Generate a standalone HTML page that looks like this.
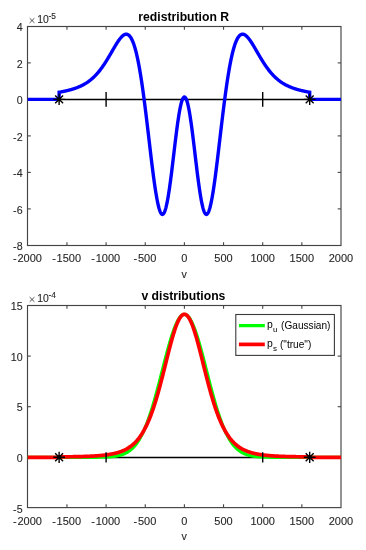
<!DOCTYPE html>
<html><head><meta charset="utf-8"><style>html,body{margin:0;padding:0;background:#fff;}svg{display:block;will-change:transform;}</style></head>
<body>
<svg width="366" height="550" viewBox="0 0 366 550">
<rect width="366" height="550" fill="#fff"/>
<g font-family="Liberation Sans, sans-serif" font-size="10.67" fill="#262626" stroke="#262626" stroke-width="0.1">
<rect x="27.5" y="26.5" width="313.5" height="219.0" fill="none" stroke="#444444" stroke-width="1.15"/>
<line x1="66.95" y1="245.5" x2="66.95" y2="242.2" stroke="#444444" stroke-width="1.1"/>
<line x1="66.95" y1="26.5" x2="66.95" y2="29.8" stroke="#444444" stroke-width="1.1"/>
<line x1="106.10" y1="245.5" x2="106.10" y2="242.2" stroke="#444444" stroke-width="1.1"/>
<line x1="106.10" y1="26.5" x2="106.10" y2="29.8" stroke="#444444" stroke-width="1.1"/>
<line x1="145.25" y1="245.5" x2="145.25" y2="242.2" stroke="#444444" stroke-width="1.1"/>
<line x1="145.25" y1="26.5" x2="145.25" y2="29.8" stroke="#444444" stroke-width="1.1"/>
<line x1="184.40" y1="245.5" x2="184.40" y2="242.2" stroke="#444444" stroke-width="1.1"/>
<line x1="184.40" y1="26.5" x2="184.40" y2="29.8" stroke="#444444" stroke-width="1.1"/>
<line x1="223.55" y1="245.5" x2="223.55" y2="242.2" stroke="#444444" stroke-width="1.1"/>
<line x1="223.55" y1="26.5" x2="223.55" y2="29.8" stroke="#444444" stroke-width="1.1"/>
<line x1="262.70" y1="245.5" x2="262.70" y2="242.2" stroke="#444444" stroke-width="1.1"/>
<line x1="262.70" y1="26.5" x2="262.70" y2="29.8" stroke="#444444" stroke-width="1.1"/>
<line x1="301.85" y1="245.5" x2="301.85" y2="242.2" stroke="#444444" stroke-width="1.1"/>
<line x1="301.85" y1="26.5" x2="301.85" y2="29.8" stroke="#444444" stroke-width="1.1"/>
<line x1="27.5" y1="62.90" x2="30.8" y2="62.90" stroke="#444444" stroke-width="1.1"/>
<line x1="341.0" y1="62.90" x2="337.7" y2="62.90" stroke="#444444" stroke-width="1.1"/>
<line x1="27.5" y1="99.40" x2="30.8" y2="99.40" stroke="#444444" stroke-width="1.1"/>
<line x1="341.0" y1="99.40" x2="337.7" y2="99.40" stroke="#444444" stroke-width="1.1"/>
<line x1="27.5" y1="135.90" x2="30.8" y2="135.90" stroke="#444444" stroke-width="1.1"/>
<line x1="341.0" y1="135.90" x2="337.7" y2="135.90" stroke="#444444" stroke-width="1.1"/>
<line x1="27.5" y1="172.40" x2="30.8" y2="172.40" stroke="#444444" stroke-width="1.1"/>
<line x1="341.0" y1="172.40" x2="337.7" y2="172.40" stroke="#444444" stroke-width="1.1"/>
<line x1="27.5" y1="208.90" x2="30.8" y2="208.90" stroke="#444444" stroke-width="1.1"/>
<line x1="341.0" y1="208.90" x2="337.7" y2="208.90" stroke="#444444" stroke-width="1.1"/>
<text x="27.45" y="262.40" text-anchor="middle" font-size="11">-<tspan dx="0.7">2000</tspan></text>
<text x="66.60" y="262.40" text-anchor="middle" font-size="11">-<tspan dx="0.7">1500</tspan></text>
<text x="105.75" y="262.40" text-anchor="middle" font-size="11">-<tspan dx="0.7">1000</tspan></text>
<text x="144.90" y="262.40" text-anchor="middle" font-size="11">-<tspan dx="0.7">500</tspan></text>
<text x="184.40" y="262.40" text-anchor="middle" font-size="11">0</text>
<text x="223.55" y="262.40" text-anchor="middle" font-size="11">500</text>
<text x="262.70" y="262.40" text-anchor="middle" font-size="11">1000</text>
<text x="301.85" y="262.40" text-anchor="middle" font-size="11">1500</text>
<text x="341.00" y="262.40" text-anchor="middle" font-size="11">2000</text>
<text x="22.6" y="31.10" text-anchor="end">4</text>
<text x="22.6" y="67.60" text-anchor="end">2</text>
<text x="22.6" y="104.10" text-anchor="end">0</text>
<text x="22.6" y="140.60" text-anchor="end">-2</text>
<text x="22.6" y="177.10" text-anchor="end">-4</text>
<text x="22.6" y="213.60" text-anchor="end">-6</text>
<text x="22.6" y="250.10" text-anchor="end">-8</text>
<text x="184.2" y="278.10" text-anchor="middle">v</text>
<rect x="27.5" y="305.5" width="313.5" height="202.10000000000002" fill="none" stroke="#444444" stroke-width="1.15"/>
<line x1="66.95" y1="507.6" x2="66.95" y2="504.3" stroke="#444444" stroke-width="1.1"/>
<line x1="66.95" y1="305.5" x2="66.95" y2="308.8" stroke="#444444" stroke-width="1.1"/>
<line x1="106.10" y1="507.6" x2="106.10" y2="504.3" stroke="#444444" stroke-width="1.1"/>
<line x1="106.10" y1="305.5" x2="106.10" y2="308.8" stroke="#444444" stroke-width="1.1"/>
<line x1="145.25" y1="507.6" x2="145.25" y2="504.3" stroke="#444444" stroke-width="1.1"/>
<line x1="145.25" y1="305.5" x2="145.25" y2="308.8" stroke="#444444" stroke-width="1.1"/>
<line x1="184.40" y1="507.6" x2="184.40" y2="504.3" stroke="#444444" stroke-width="1.1"/>
<line x1="184.40" y1="305.5" x2="184.40" y2="308.8" stroke="#444444" stroke-width="1.1"/>
<line x1="223.55" y1="507.6" x2="223.55" y2="504.3" stroke="#444444" stroke-width="1.1"/>
<line x1="223.55" y1="305.5" x2="223.55" y2="308.8" stroke="#444444" stroke-width="1.1"/>
<line x1="262.70" y1="507.6" x2="262.70" y2="504.3" stroke="#444444" stroke-width="1.1"/>
<line x1="262.70" y1="305.5" x2="262.70" y2="308.8" stroke="#444444" stroke-width="1.1"/>
<line x1="301.85" y1="507.6" x2="301.85" y2="504.3" stroke="#444444" stroke-width="1.1"/>
<line x1="301.85" y1="305.5" x2="301.85" y2="308.8" stroke="#444444" stroke-width="1.1"/>
<line x1="27.5" y1="356.10" x2="30.8" y2="356.10" stroke="#444444" stroke-width="1.1"/>
<line x1="341.0" y1="356.10" x2="337.7" y2="356.10" stroke="#444444" stroke-width="1.1"/>
<line x1="27.5" y1="406.70" x2="30.8" y2="406.70" stroke="#444444" stroke-width="1.1"/>
<line x1="341.0" y1="406.70" x2="337.7" y2="406.70" stroke="#444444" stroke-width="1.1"/>
<line x1="27.5" y1="457.30" x2="30.8" y2="457.30" stroke="#444444" stroke-width="1.1"/>
<line x1="341.0" y1="457.30" x2="337.7" y2="457.30" stroke="#444444" stroke-width="1.1"/>
<text x="27.45" y="524.50" text-anchor="middle" font-size="11">-<tspan dx="0.7">2000</tspan></text>
<text x="66.60" y="524.50" text-anchor="middle" font-size="11">-<tspan dx="0.7">1500</tspan></text>
<text x="105.75" y="524.50" text-anchor="middle" font-size="11">-<tspan dx="0.7">1000</tspan></text>
<text x="144.90" y="524.50" text-anchor="middle" font-size="11">-<tspan dx="0.7">500</tspan></text>
<text x="184.40" y="524.50" text-anchor="middle" font-size="11">0</text>
<text x="223.55" y="524.50" text-anchor="middle" font-size="11">500</text>
<text x="262.70" y="524.50" text-anchor="middle" font-size="11">1000</text>
<text x="301.85" y="524.50" text-anchor="middle" font-size="11">1500</text>
<text x="341.00" y="524.50" text-anchor="middle" font-size="11">2000</text>
<text x="22.6" y="310.20" text-anchor="end">15</text>
<text x="22.6" y="360.80" text-anchor="end">10</text>
<text x="22.6" y="411.40" text-anchor="end">5</text>
<text x="22.6" y="462.00" text-anchor="end">0</text>
<text x="22.6" y="512.60" text-anchor="end">-5</text>
<text x="184.2" y="540.20" text-anchor="middle">v</text>
<path d="M29.7,18.20 L34.4,22.80 M29.7,22.80 L34.4,18.20" stroke="#262626" stroke-width="0.8" fill="none"/><text x="37.2" y="23.40" font-size="10.4">10</text><text x="48.4" y="19.00" font-size="8.4">-5</text>
<path d="M29.7,297.20 L34.4,301.80 M29.7,301.80 L34.4,297.20" stroke="#262626" stroke-width="0.8" fill="none"/><text x="37.2" y="302.40" font-size="10.4">10</text><text x="48.4" y="298.00" font-size="8.4">-4</text>
</g>
<text x="183.7" y="21.0" text-anchor="middle" font-family="Liberation Sans, sans-serif" font-weight="bold" font-size="12.2" fill="#000">redistribution R</text>
<text x="183.4" y="300.0" text-anchor="middle" font-family="Liberation Sans, sans-serif" font-weight="bold" font-size="12.2" fill="#000">v distributions</text>
<line x1="59.12" y1="99.5" x2="309.68" y2="99.5" stroke="#000" stroke-width="1.4"/>
<path d="M27.80,99.40 L59.12,99.40 L59.12,92.26 L59.51,92.19 L59.90,92.12 L60.29,92.05 L60.69,91.98 L61.08,91.90 L61.47,91.83 L61.86,91.75 L62.25,91.68 L62.64,91.60 L63.04,91.52 L63.43,91.44 L63.82,91.36 L64.21,91.27 L64.60,91.19 L64.99,91.10 L65.38,91.02 L65.78,90.93 L66.17,90.84 L66.56,90.75 L66.95,90.66 L67.34,90.56 L67.73,90.47 L68.12,90.37 L68.52,90.27 L68.91,90.17 L69.30,90.07 L69.69,89.97 L70.08,89.86 L70.47,89.76 L70.87,89.65 L71.26,89.53 L71.65,89.42 L72.04,89.31 L72.43,89.19 L72.82,89.07 L73.21,88.95 L73.61,88.82 L74.00,88.69 L74.39,88.56 L74.78,88.43 L75.17,88.30 L75.56,88.16 L75.95,88.02 L76.35,87.88 L76.74,87.73 L77.13,87.58 L77.52,87.43 L77.91,87.27 L78.30,87.11 L78.70,86.95 L79.09,86.79 L79.48,86.62 L79.87,86.45 L80.26,86.27 L80.65,86.09 L81.04,85.90 L81.44,85.72 L81.83,85.52 L82.22,85.33 L82.61,85.13 L83.00,84.92 L83.39,84.71 L83.78,84.50 L84.18,84.28 L84.57,84.05 L84.96,83.82 L85.35,83.59 L85.74,83.35 L86.13,83.11 L86.53,82.86 L86.92,82.60 L87.31,82.34 L87.70,82.07 L88.09,81.80 L88.48,81.52 L88.87,81.24 L89.27,80.94 L89.66,80.65 L90.05,80.34 L90.44,80.03 L90.83,79.72 L91.22,79.39 L91.61,79.06 L92.01,78.72 L92.40,78.38 L92.79,78.03 L93.18,77.67 L93.57,77.30 L93.96,76.92 L94.36,76.54 L94.75,76.15 L95.14,75.75 L95.53,75.35 L95.92,74.94 L96.31,74.51 L96.70,74.09 L97.10,73.65 L97.49,73.20 L97.88,72.75 L98.27,72.29 L98.66,71.82 L99.05,71.34 L99.44,70.85 L99.84,70.35 L100.23,69.85 L100.62,69.34 L101.01,68.82 L101.40,68.29 L101.79,67.75 L102.19,67.21 L102.58,66.65 L102.97,66.09 L103.36,65.52 L103.75,64.95 L104.14,64.36 L104.53,63.77 L104.93,63.17 L105.32,62.57 L105.71,61.95 L106.10,61.33 L106.49,60.71 L106.88,60.08 L107.27,59.44 L107.67,58.79 L108.06,58.14 L108.45,57.49 L108.84,56.83 L109.23,56.17 L109.62,55.50 L110.02,54.83 L110.41,54.16 L110.80,53.49 L111.19,52.81 L111.58,52.13 L111.97,51.45 L112.36,50.78 L112.76,50.10 L113.15,49.42 L113.54,48.75 L113.93,48.08 L114.32,47.41 L114.71,46.75 L115.10,46.09 L115.50,45.44 L115.89,44.79 L116.28,44.15 L116.67,43.53 L117.06,42.91 L117.45,42.30 L117.85,41.70 L118.24,41.12 L118.63,40.55 L119.02,40.00 L119.41,39.47 L119.80,38.95 L120.19,38.45 L120.59,37.97 L120.98,37.51 L121.37,37.08 L121.76,36.67 L122.15,36.29 L122.54,35.93 L122.93,35.61 L123.33,35.31 L123.72,35.05 L124.11,34.82 L124.50,34.62 L124.89,34.46 L125.28,34.34 L125.68,34.26 L126.07,34.22 L126.46,34.22 L126.85,34.27 L127.24,34.36 L127.63,34.50 L128.02,34.69 L128.42,34.94 L128.81,35.23 L129.20,35.58 L129.59,35.98 L129.98,36.45 L130.37,36.97 L130.76,37.55 L131.16,38.19 L131.55,38.90 L131.94,39.67 L132.33,40.50 L132.72,41.41 L133.11,42.38 L133.50,43.42 L133.90,44.53 L134.29,45.71 L134.68,46.97 L135.07,48.30 L135.46,49.70 L135.85,51.18 L136.25,52.73 L136.64,54.36 L137.03,56.06 L137.42,57.84 L137.81,59.70 L138.20,61.63 L138.59,63.64 L138.99,65.72 L139.38,67.88 L139.77,70.11 L140.16,72.41 L140.55,74.79 L140.94,77.24 L141.34,79.76 L141.73,82.34 L142.12,85.00 L142.51,87.71 L142.90,90.49 L143.29,93.33 L143.68,96.23 L144.08,99.18 L144.47,102.19 L144.86,105.24 L145.25,108.34 L145.64,111.48 L146.03,114.66 L146.42,117.88 L146.82,121.12 L147.21,124.40 L147.60,127.69 L147.99,131.00 L148.38,134.32 L148.77,137.66 L149.17,140.99 L149.56,144.32 L149.95,147.64 L150.34,150.95 L150.73,154.24 L151.12,157.50 L151.51,160.73 L151.91,163.92 L152.30,167.07 L152.69,170.17 L153.08,173.22 L153.47,176.20 L153.86,179.11 L154.25,181.95 L154.65,184.71 L155.04,187.38 L155.43,189.95 L155.82,192.43 L156.21,194.80 L156.60,197.07 L157.00,199.21 L157.39,201.24 L157.78,203.13 L158.17,204.90 L158.56,206.52 L158.95,208.01 L159.34,209.35 L159.74,210.54 L160.13,211.57 L160.52,212.45 L160.91,213.17 L161.30,213.72 L161.69,214.11 L162.08,214.33 L162.48,214.39 L162.87,214.27 L163.26,213.99 L163.65,213.54 L164.04,212.92 L164.43,212.12 L164.83,211.17 L165.22,210.04 L165.61,208.76 L166.00,207.32 L166.39,205.72 L166.78,203.96 L167.17,202.06 L167.57,200.02 L167.96,197.84 L168.35,195.53 L168.74,193.10 L169.13,190.54 L169.52,187.88 L169.91,185.11 L170.31,182.25 L170.70,179.30 L171.09,176.27 L171.48,173.18 L171.87,170.02 L172.26,166.82 L172.66,163.58 L173.05,160.31 L173.44,157.02 L173.83,153.72 L174.22,150.42 L174.61,147.13 L175.00,143.87 L175.40,140.65 L175.79,137.46 L176.18,134.33 L176.57,131.27 L176.96,128.28 L177.35,125.38 L177.74,122.58 L178.14,119.88 L178.53,117.29 L178.92,114.82 L179.31,112.49 L179.70,110.29 L180.09,108.25 L180.49,106.35 L180.88,104.62 L181.27,103.05 L181.66,101.65 L182.05,100.43 L182.44,99.39 L182.83,98.53 L183.23,97.86 L183.62,97.38 L184.01,97.10 L184.40,97.00 L184.79,97.10 L185.18,97.38 L185.57,97.86 L185.97,98.53 L186.36,99.39 L186.75,100.43 L187.14,101.65 L187.53,103.05 L187.92,104.62 L188.31,106.35 L188.71,108.25 L189.10,110.29 L189.49,112.49 L189.88,114.82 L190.27,117.29 L190.66,119.88 L191.06,122.58 L191.45,125.38 L191.84,128.28 L192.23,131.27 L192.62,134.33 L193.01,137.46 L193.40,140.65 L193.80,143.87 L194.19,147.13 L194.58,150.42 L194.97,153.72 L195.36,157.02 L195.75,160.31 L196.15,163.58 L196.54,166.82 L196.93,170.02 L197.32,173.18 L197.71,176.27 L198.10,179.30 L198.49,182.25 L198.89,185.11 L199.28,187.88 L199.67,190.54 L200.06,193.10 L200.45,195.53 L200.84,197.84 L201.23,200.02 L201.63,202.06 L202.02,203.96 L202.41,205.72 L202.80,207.32 L203.19,208.76 L203.58,210.04 L203.97,211.17 L204.37,212.12 L204.76,212.92 L205.15,213.54 L205.54,213.99 L205.93,214.27 L206.32,214.39 L206.72,214.33 L207.11,214.11 L207.50,213.72 L207.89,213.17 L208.28,212.45 L208.67,211.57 L209.06,210.54 L209.46,209.35 L209.85,208.01 L210.24,206.52 L210.63,204.90 L211.02,203.13 L211.41,201.24 L211.81,199.21 L212.20,197.07 L212.59,194.80 L212.98,192.43 L213.37,189.95 L213.76,187.38 L214.15,184.71 L214.55,181.95 L214.94,179.11 L215.33,176.20 L215.72,173.22 L216.11,170.17 L216.50,167.07 L216.89,163.92 L217.29,160.73 L217.68,157.50 L218.07,154.24 L218.46,150.95 L218.85,147.64 L219.24,144.32 L219.63,140.99 L220.03,137.66 L220.42,134.32 L220.81,131.00 L221.20,127.69 L221.59,124.40 L221.98,121.12 L222.38,117.88 L222.77,114.66 L223.16,111.48 L223.55,108.34 L223.94,105.24 L224.33,102.19 L224.72,99.18 L225.12,96.23 L225.51,93.33 L225.90,90.49 L226.29,87.71 L226.68,85.00 L227.07,82.34 L227.47,79.76 L227.86,77.24 L228.25,74.79 L228.64,72.41 L229.03,70.11 L229.42,67.88 L229.81,65.72 L230.21,63.64 L230.60,61.63 L230.99,59.70 L231.38,57.84 L231.77,56.06 L232.16,54.36 L232.55,52.73 L232.95,51.18 L233.34,49.70 L233.73,48.30 L234.12,46.97 L234.51,45.71 L234.90,44.53 L235.30,43.42 L235.69,42.38 L236.08,41.41 L236.47,40.50 L236.86,39.67 L237.25,38.90 L237.64,38.19 L238.04,37.55 L238.43,36.97 L238.82,36.45 L239.21,35.98 L239.60,35.58 L239.99,35.23 L240.38,34.94 L240.78,34.69 L241.17,34.50 L241.56,34.36 L241.95,34.27 L242.34,34.22 L242.73,34.22 L243.12,34.26 L243.52,34.34 L243.91,34.46 L244.30,34.62 L244.69,34.82 L245.08,35.05 L245.47,35.31 L245.87,35.61 L246.26,35.93 L246.65,36.29 L247.04,36.67 L247.43,37.08 L247.82,37.51 L248.21,37.97 L248.61,38.45 L249.00,38.95 L249.39,39.47 L249.78,40.00 L250.17,40.55 L250.56,41.12 L250.95,41.70 L251.35,42.30 L251.74,42.91 L252.13,43.53 L252.52,44.15 L252.91,44.79 L253.30,45.44 L253.70,46.09 L254.09,46.75 L254.48,47.41 L254.87,48.08 L255.26,48.75 L255.65,49.42 L256.04,50.10 L256.44,50.78 L256.83,51.45 L257.22,52.13 L257.61,52.81 L258.00,53.49 L258.39,54.16 L258.78,54.83 L259.18,55.50 L259.57,56.17 L259.96,56.83 L260.35,57.49 L260.74,58.14 L261.13,58.79 L261.53,59.44 L261.92,60.08 L262.31,60.71 L262.70,61.33 L263.09,61.95 L263.48,62.57 L263.87,63.17 L264.27,63.77 L264.66,64.36 L265.05,64.95 L265.44,65.52 L265.83,66.09 L266.22,66.65 L266.62,67.21 L267.01,67.75 L267.40,68.29 L267.79,68.82 L268.18,69.34 L268.57,69.85 L268.96,70.35 L269.36,70.85 L269.75,71.34 L270.14,71.82 L270.53,72.29 L270.92,72.75 L271.31,73.20 L271.70,73.65 L272.10,74.09 L272.49,74.51 L272.88,74.94 L273.27,75.35 L273.66,75.75 L274.05,76.15 L274.44,76.54 L274.84,76.92 L275.23,77.30 L275.62,77.67 L276.01,78.03 L276.40,78.38 L276.79,78.72 L277.19,79.06 L277.58,79.39 L277.97,79.72 L278.36,80.03 L278.75,80.34 L279.14,80.65 L279.53,80.94 L279.93,81.24 L280.32,81.52 L280.71,81.80 L281.10,82.07 L281.49,82.34 L281.88,82.60 L282.27,82.86 L282.67,83.11 L283.06,83.35 L283.45,83.59 L283.84,83.82 L284.23,84.05 L284.62,84.28 L285.02,84.50 L285.41,84.71 L285.80,84.92 L286.19,85.13 L286.58,85.33 L286.97,85.52 L287.36,85.72 L287.76,85.90 L288.15,86.09 L288.54,86.27 L288.93,86.45 L289.32,86.62 L289.71,86.79 L290.11,86.95 L290.50,87.11 L290.89,87.27 L291.28,87.43 L291.67,87.58 L292.06,87.73 L292.45,87.88 L292.85,88.02 L293.24,88.16 L293.63,88.30 L294.02,88.43 L294.41,88.56 L294.80,88.69 L295.19,88.82 L295.59,88.95 L295.98,89.07 L296.37,89.19 L296.76,89.31 L297.15,89.42 L297.54,89.53 L297.94,89.65 L298.33,89.76 L298.72,89.86 L299.11,89.97 L299.50,90.07 L299.89,90.17 L300.28,90.27 L300.68,90.37 L301.07,90.47 L301.46,90.56 L301.85,90.66 L302.24,90.75 L302.63,90.84 L303.02,90.93 L303.42,91.02 L303.81,91.10 L304.20,91.19 L304.59,91.27 L304.98,91.36 L305.37,91.44 L305.76,91.52 L306.16,91.60 L306.55,91.68 L306.94,91.75 L307.33,91.83 L307.72,91.90 L308.11,91.98 L308.51,92.05 L308.90,92.12 L309.29,92.19 L309.68,92.26 L309.68,99.40 L341.00,99.40" fill="none" stroke="#0000ff" stroke-width="3.4" stroke-linejoin="miter"/>
<path d="M53.22,99.40 L65.02,99.40 M59.12,93.80 L59.12,105.00 M55.16,95.44 L63.08,103.36 M55.16,103.36 L63.08,95.44" stroke="#000" stroke-width="1.4" fill="none"/>
<path d="M303.78,99.40 L315.58,99.40 M309.68,93.80 L309.68,105.00 M305.72,95.44 L313.64,103.36 M305.72,103.36 L313.64,95.44" stroke="#000" stroke-width="1.4" fill="none"/>
<line x1="106.10" y1="92.10" x2="106.10" y2="106.70" stroke="#000" stroke-width="1.4"/>
<line x1="262.70" y1="92.10" x2="262.70" y2="106.70" stroke="#000" stroke-width="1.4"/>
<line x1="59.12" y1="457.5" x2="309.68" y2="457.5" stroke="#000" stroke-width="1.4"/>
<path d="M27.80,457.30 L28.19,457.30 L28.58,457.30 L28.97,457.30 L29.37,457.30 L29.76,457.30 L30.15,457.30 L30.54,457.30 L30.93,457.30 L31.32,457.30 L31.72,457.30 L32.11,457.30 L32.50,457.30 L32.89,457.30 L33.28,457.30 L33.67,457.30 L34.06,457.30 L34.46,457.30 L34.85,457.30 L35.24,457.30 L35.63,457.30 L36.02,457.30 L36.41,457.30 L36.80,457.30 L37.20,457.30 L37.59,457.30 L37.98,457.30 L38.37,457.30 L38.76,457.30 L39.15,457.30 L39.55,457.30 L39.94,457.30 L40.33,457.30 L40.72,457.30 L41.11,457.30 L41.50,457.30 L41.89,457.30 L42.29,457.30 L42.68,457.30 L43.07,457.30 L43.46,457.30 L43.85,457.30 L44.24,457.30 L44.63,457.30 L45.03,457.30 L45.42,457.30 L45.81,457.30 L46.20,457.30 L46.59,457.30 L46.98,457.30 L47.38,457.30 L47.77,457.30 L48.16,457.30 L48.55,457.30 L48.94,457.30 L49.33,457.30 L49.72,457.30 L50.12,457.30 L50.51,457.30 L50.90,457.30 L51.29,457.30 L51.68,457.30 L52.07,457.30 L52.46,457.30 L52.86,457.30 L53.25,457.30 L53.64,457.30 L54.03,457.30 L54.42,457.30 L54.81,457.30 L55.21,457.30 L55.60,457.30 L55.99,457.30 L56.38,457.30 L56.77,457.30 L57.16,457.30 L57.55,457.30 L57.95,457.30 L58.34,457.30 L58.73,457.30 L59.12,457.30 L59.51,457.30 L59.90,457.30 L60.29,457.30 L60.69,457.30 L61.08,457.30 L61.47,457.30 L61.86,457.30 L62.25,457.30 L62.64,457.30 L63.04,457.30 L63.43,457.30 L63.82,457.30 L64.21,457.30 L64.60,457.30 L64.99,457.30 L65.38,457.30 L65.78,457.30 L66.17,457.30 L66.56,457.30 L66.95,457.30 L67.34,457.30 L67.73,457.30 L68.12,457.30 L68.52,457.30 L68.91,457.30 L69.30,457.30 L69.69,457.30 L70.08,457.30 L70.47,457.30 L70.87,457.30 L71.26,457.30 L71.65,457.30 L72.04,457.30 L72.43,457.30 L72.82,457.30 L73.21,457.30 L73.61,457.30 L74.00,457.30 L74.39,457.30 L74.78,457.30 L75.17,457.30 L75.56,457.30 L75.95,457.30 L76.35,457.30 L76.74,457.30 L77.13,457.30 L77.52,457.30 L77.91,457.30 L78.30,457.30 L78.70,457.30 L79.09,457.30 L79.48,457.30 L79.87,457.30 L80.26,457.30 L80.65,457.30 L81.04,457.30 L81.44,457.30 L81.83,457.30 L82.22,457.30 L82.61,457.30 L83.00,457.30 L83.39,457.30 L83.78,457.30 L84.18,457.30 L84.57,457.29 L84.96,457.29 L85.35,457.29 L85.74,457.29 L86.13,457.29 L86.53,457.29 L86.92,457.29 L87.31,457.29 L87.70,457.29 L88.09,457.29 L88.48,457.29 L88.87,457.29 L89.27,457.29 L89.66,457.29 L90.05,457.28 L90.44,457.28 L90.83,457.28 L91.22,457.28 L91.61,457.28 L92.01,457.28 L92.40,457.27 L92.79,457.27 L93.18,457.27 L93.57,457.27 L93.96,457.27 L94.36,457.26 L94.75,457.26 L95.14,457.26 L95.53,457.26 L95.92,457.25 L96.31,457.25 L96.70,457.24 L97.10,457.24 L97.49,457.24 L97.88,457.23 L98.27,457.23 L98.66,457.22 L99.05,457.22 L99.44,457.21 L99.84,457.20 L100.23,457.20 L100.62,457.19 L101.01,457.18 L101.40,457.17 L101.79,457.17 L102.19,457.16 L102.58,457.15 L102.97,457.14 L103.36,457.13 L103.75,457.11 L104.14,457.10 L104.53,457.09 L104.93,457.08 L105.32,457.06 L105.71,457.04 L106.10,457.03 L106.49,457.01 L106.88,456.99 L107.27,456.97 L107.67,456.95 L108.06,456.93 L108.45,456.91 L108.84,456.88 L109.23,456.86 L109.62,456.83 L110.02,456.80 L110.41,456.77 L110.80,456.74 L111.19,456.70 L111.58,456.67 L111.97,456.63 L112.36,456.59 L112.76,456.55 L113.15,456.50 L113.54,456.46 L113.93,456.41 L114.32,456.35 L114.71,456.30 L115.10,456.24 L115.50,456.18 L115.89,456.12 L116.28,456.05 L116.67,455.98 L117.06,455.91 L117.45,455.83 L117.85,455.75 L118.24,455.67 L118.63,455.58 L119.02,455.49 L119.41,455.39 L119.80,455.29 L120.19,455.18 L120.59,455.07 L120.98,454.96 L121.37,454.84 L121.76,454.71 L122.15,454.58 L122.54,454.44 L122.93,454.29 L123.33,454.14 L123.72,453.98 L124.11,453.82 L124.50,453.65 L124.89,453.47 L125.28,453.28 L125.68,453.09 L126.07,452.89 L126.46,452.68 L126.85,452.46 L127.24,452.23 L127.63,451.99 L128.02,451.75 L128.42,451.49 L128.81,451.23 L129.20,450.95 L129.59,450.67 L129.98,450.37 L130.37,450.06 L130.76,449.74 L131.16,449.41 L131.55,449.07 L131.94,448.72 L132.33,448.35 L132.72,447.97 L133.11,447.58 L133.50,447.17 L133.90,446.76 L134.29,446.32 L134.68,445.87 L135.07,445.41 L135.46,444.94 L135.85,444.44 L136.25,443.94 L136.64,443.41 L137.03,442.88 L137.42,442.32 L137.81,441.75 L138.20,441.16 L138.59,440.56 L138.99,439.93 L139.38,439.29 L139.77,438.64 L140.16,437.96 L140.55,437.27 L140.94,436.56 L141.34,435.82 L141.73,435.08 L142.12,434.31 L142.51,433.52 L142.90,432.71 L143.29,431.89 L143.68,431.04 L144.08,430.18 L144.47,429.29 L144.86,428.39 L145.25,427.46 L145.64,426.52 L146.03,425.55 L146.42,424.57 L146.82,423.56 L147.21,422.54 L147.60,421.49 L147.99,420.43 L148.38,419.35 L148.77,418.24 L149.17,417.12 L149.56,415.98 L149.95,414.81 L150.34,413.63 L150.73,412.43 L151.12,411.22 L151.51,409.98 L151.91,408.73 L152.30,407.45 L152.69,406.17 L153.08,404.86 L153.47,403.54 L153.86,402.20 L154.25,400.84 L154.65,399.48 L155.04,398.09 L155.43,396.69 L155.82,395.28 L156.21,393.86 L156.60,392.42 L157.00,390.97 L157.39,389.51 L157.78,388.04 L158.17,386.56 L158.56,385.07 L158.95,383.57 L159.34,382.07 L159.74,380.56 L160.13,379.04 L160.52,377.52 L160.91,375.99 L161.30,374.46 L161.69,372.93 L162.08,371.40 L162.48,369.86 L162.87,368.33 L163.26,366.80 L163.65,365.27 L164.04,363.74 L164.43,362.22 L164.83,360.70 L165.22,359.19 L165.61,357.69 L166.00,356.20 L166.39,354.72 L166.78,353.24 L167.17,351.78 L167.57,350.34 L167.96,348.90 L168.35,347.48 L168.74,346.08 L169.13,344.70 L169.52,343.33 L169.91,341.98 L170.31,340.66 L170.70,339.35 L171.09,338.07 L171.48,336.81 L171.87,335.58 L172.26,334.37 L172.66,333.19 L173.05,332.04 L173.44,330.92 L173.83,329.82 L174.22,328.76 L174.61,327.73 L175.00,326.73 L175.40,325.77 L175.79,324.84 L176.18,323.94 L176.57,323.08 L176.96,322.26 L177.35,321.48 L177.74,320.73 L178.14,320.02 L178.53,319.35 L178.92,318.73 L179.31,318.14 L179.70,317.59 L180.09,317.09 L180.49,316.63 L180.88,316.21 L181.27,315.83 L181.66,315.50 L182.05,315.21 L182.44,314.96 L182.83,314.76 L183.23,314.61 L183.62,314.50 L184.01,314.43 L184.40,314.41 L184.79,314.43 L185.18,314.50 L185.57,314.61 L185.97,314.76 L186.36,314.96 L186.75,315.21 L187.14,315.50 L187.53,315.83 L187.92,316.21 L188.31,316.63 L188.71,317.09 L189.10,317.59 L189.49,318.14 L189.88,318.73 L190.27,319.35 L190.66,320.02 L191.06,320.73 L191.45,321.48 L191.84,322.26 L192.23,323.08 L192.62,323.94 L193.01,324.84 L193.40,325.77 L193.80,326.73 L194.19,327.73 L194.58,328.76 L194.97,329.82 L195.36,330.92 L195.75,332.04 L196.15,333.19 L196.54,334.37 L196.93,335.58 L197.32,336.81 L197.71,338.07 L198.10,339.35 L198.49,340.66 L198.89,341.98 L199.28,343.33 L199.67,344.70 L200.06,346.08 L200.45,347.48 L200.84,348.90 L201.23,350.34 L201.63,351.78 L202.02,353.24 L202.41,354.72 L202.80,356.20 L203.19,357.69 L203.58,359.19 L203.97,360.70 L204.37,362.22 L204.76,363.74 L205.15,365.27 L205.54,366.80 L205.93,368.33 L206.32,369.86 L206.72,371.40 L207.11,372.93 L207.50,374.46 L207.89,375.99 L208.28,377.52 L208.67,379.04 L209.06,380.56 L209.46,382.07 L209.85,383.57 L210.24,385.07 L210.63,386.56 L211.02,388.04 L211.41,389.51 L211.81,390.97 L212.20,392.42 L212.59,393.86 L212.98,395.28 L213.37,396.69 L213.76,398.09 L214.15,399.48 L214.55,400.84 L214.94,402.20 L215.33,403.54 L215.72,404.86 L216.11,406.17 L216.50,407.45 L216.89,408.73 L217.29,409.98 L217.68,411.22 L218.07,412.43 L218.46,413.63 L218.85,414.81 L219.24,415.98 L219.63,417.12 L220.03,418.24 L220.42,419.35 L220.81,420.43 L221.20,421.49 L221.59,422.54 L221.98,423.56 L222.38,424.57 L222.77,425.55 L223.16,426.52 L223.55,427.46 L223.94,428.39 L224.33,429.29 L224.72,430.18 L225.12,431.04 L225.51,431.89 L225.90,432.71 L226.29,433.52 L226.68,434.31 L227.07,435.08 L227.47,435.82 L227.86,436.56 L228.25,437.27 L228.64,437.96 L229.03,438.64 L229.42,439.29 L229.81,439.93 L230.21,440.56 L230.60,441.16 L230.99,441.75 L231.38,442.32 L231.77,442.88 L232.16,443.41 L232.55,443.94 L232.95,444.44 L233.34,444.94 L233.73,445.41 L234.12,445.87 L234.51,446.32 L234.90,446.76 L235.30,447.17 L235.69,447.58 L236.08,447.97 L236.47,448.35 L236.86,448.72 L237.25,449.07 L237.64,449.41 L238.04,449.74 L238.43,450.06 L238.82,450.37 L239.21,450.67 L239.60,450.95 L239.99,451.23 L240.38,451.49 L240.78,451.75 L241.17,451.99 L241.56,452.23 L241.95,452.46 L242.34,452.68 L242.73,452.89 L243.12,453.09 L243.52,453.28 L243.91,453.47 L244.30,453.65 L244.69,453.82 L245.08,453.98 L245.47,454.14 L245.87,454.29 L246.26,454.44 L246.65,454.58 L247.04,454.71 L247.43,454.84 L247.82,454.96 L248.21,455.07 L248.61,455.18 L249.00,455.29 L249.39,455.39 L249.78,455.49 L250.17,455.58 L250.56,455.67 L250.95,455.75 L251.35,455.83 L251.74,455.91 L252.13,455.98 L252.52,456.05 L252.91,456.12 L253.30,456.18 L253.70,456.24 L254.09,456.30 L254.48,456.35 L254.87,456.41 L255.26,456.46 L255.65,456.50 L256.04,456.55 L256.44,456.59 L256.83,456.63 L257.22,456.67 L257.61,456.70 L258.00,456.74 L258.39,456.77 L258.78,456.80 L259.18,456.83 L259.57,456.86 L259.96,456.88 L260.35,456.91 L260.74,456.93 L261.13,456.95 L261.53,456.97 L261.92,456.99 L262.31,457.01 L262.70,457.03 L263.09,457.04 L263.48,457.06 L263.87,457.08 L264.27,457.09 L264.66,457.10 L265.05,457.11 L265.44,457.13 L265.83,457.14 L266.22,457.15 L266.62,457.16 L267.01,457.17 L267.40,457.17 L267.79,457.18 L268.18,457.19 L268.57,457.20 L268.96,457.20 L269.36,457.21 L269.75,457.22 L270.14,457.22 L270.53,457.23 L270.92,457.23 L271.31,457.24 L271.70,457.24 L272.10,457.24 L272.49,457.25 L272.88,457.25 L273.27,457.26 L273.66,457.26 L274.05,457.26 L274.44,457.26 L274.84,457.27 L275.23,457.27 L275.62,457.27 L276.01,457.27 L276.40,457.27 L276.79,457.28 L277.19,457.28 L277.58,457.28 L277.97,457.28 L278.36,457.28 L278.75,457.28 L279.14,457.29 L279.53,457.29 L279.93,457.29 L280.32,457.29 L280.71,457.29 L281.10,457.29 L281.49,457.29 L281.88,457.29 L282.27,457.29 L282.67,457.29 L283.06,457.29 L283.45,457.29 L283.84,457.29 L284.23,457.29 L284.62,457.30 L285.02,457.30 L285.41,457.30 L285.80,457.30 L286.19,457.30 L286.58,457.30 L286.97,457.30 L287.36,457.30 L287.76,457.30 L288.15,457.30 L288.54,457.30 L288.93,457.30 L289.32,457.30 L289.71,457.30 L290.11,457.30 L290.50,457.30 L290.89,457.30 L291.28,457.30 L291.67,457.30 L292.06,457.30 L292.45,457.30 L292.85,457.30 L293.24,457.30 L293.63,457.30 L294.02,457.30 L294.41,457.30 L294.80,457.30 L295.19,457.30 L295.59,457.30 L295.98,457.30 L296.37,457.30 L296.76,457.30 L297.15,457.30 L297.54,457.30 L297.94,457.30 L298.33,457.30 L298.72,457.30 L299.11,457.30 L299.50,457.30 L299.89,457.30 L300.28,457.30 L300.68,457.30 L301.07,457.30 L301.46,457.30 L301.85,457.30 L302.24,457.30 L302.63,457.30 L303.02,457.30 L303.42,457.30 L303.81,457.30 L304.20,457.30 L304.59,457.30 L304.98,457.30 L305.37,457.30 L305.76,457.30 L306.16,457.30 L306.55,457.30 L306.94,457.30 L307.33,457.30 L307.72,457.30 L308.11,457.30 L308.51,457.30 L308.90,457.30 L309.29,457.30 L309.68,457.30 L310.07,457.30 L310.46,457.30 L310.85,457.30 L311.25,457.30 L311.64,457.30 L312.03,457.30 L312.42,457.30 L312.81,457.30 L313.20,457.30 L313.60,457.30 L313.99,457.30 L314.38,457.30 L314.77,457.30 L315.16,457.30 L315.55,457.30 L315.94,457.30 L316.34,457.30 L316.73,457.30 L317.12,457.30 L317.51,457.30 L317.90,457.30 L318.29,457.30 L318.68,457.30 L319.08,457.30 L319.47,457.30 L319.86,457.30 L320.25,457.30 L320.64,457.30 L321.03,457.30 L321.42,457.30 L321.82,457.30 L322.21,457.30 L322.60,457.30 L322.99,457.30 L323.38,457.30 L323.77,457.30 L324.17,457.30 L324.56,457.30 L324.95,457.30 L325.34,457.30 L325.73,457.30 L326.12,457.30 L326.51,457.30 L326.91,457.30 L327.30,457.30 L327.69,457.30 L328.08,457.30 L328.47,457.30 L328.86,457.30 L329.25,457.30 L329.65,457.30 L330.04,457.30 L330.43,457.30 L330.82,457.30 L331.21,457.30 L331.60,457.30 L332.00,457.30 L332.39,457.30 L332.78,457.30 L333.17,457.30 L333.56,457.30 L333.95,457.30 L334.34,457.30 L334.74,457.30 L335.13,457.30 L335.52,457.30 L335.91,457.30 L336.30,457.30 L336.69,457.30 L337.09,457.30 L337.48,457.30 L337.87,457.30 L338.26,457.30 L338.65,457.30 L339.04,457.30 L339.43,457.30 L339.83,457.30 L340.22,457.30 L340.61,457.30 L341.00,457.30" fill="none" stroke="#00ff00" stroke-width="3.3" stroke-linejoin="round"/>
<path d="M27.80,457.30 L59.12,457.30 L59.12,456.90 L59.51,456.90 L59.90,456.90 L60.29,456.89 L60.69,456.89 L61.08,456.88 L61.47,456.88 L61.86,456.88 L62.25,456.87 L62.64,456.87 L63.04,456.86 L63.43,456.86 L63.82,456.85 L64.21,456.85 L64.60,456.84 L64.99,456.84 L65.38,456.84 L65.78,456.83 L66.17,456.83 L66.56,456.82 L66.95,456.82 L67.34,456.81 L67.73,456.80 L68.12,456.80 L68.52,456.79 L68.91,456.79 L69.30,456.78 L69.69,456.78 L70.08,456.77 L70.47,456.76 L70.87,456.76 L71.26,456.75 L71.65,456.75 L72.04,456.74 L72.43,456.73 L72.82,456.73 L73.21,456.72 L73.61,456.71 L74.00,456.71 L74.39,456.70 L74.78,456.69 L75.17,456.68 L75.56,456.68 L75.95,456.67 L76.35,456.66 L76.74,456.65 L77.13,456.64 L77.52,456.63 L77.91,456.63 L78.30,456.62 L78.70,456.61 L79.09,456.60 L79.48,456.59 L79.87,456.58 L80.26,456.57 L80.65,456.56 L81.04,456.55 L81.44,456.54 L81.83,456.53 L82.22,456.52 L82.61,456.50 L83.00,456.49 L83.39,456.48 L83.78,456.47 L84.18,456.46 L84.57,456.44 L84.96,456.43 L85.35,456.42 L85.74,456.40 L86.13,456.39 L86.53,456.37 L86.92,456.36 L87.31,456.34 L87.70,456.33 L88.09,456.31 L88.48,456.30 L88.87,456.28 L89.27,456.26 L89.66,456.25 L90.05,456.23 L90.44,456.21 L90.83,456.19 L91.22,456.17 L91.61,456.15 L92.01,456.13 L92.40,456.11 L92.79,456.09 L93.18,456.07 L93.57,456.04 L93.96,456.02 L94.36,456.00 L94.75,455.97 L95.14,455.95 L95.53,455.92 L95.92,455.90 L96.31,455.87 L96.70,455.84 L97.10,455.81 L97.49,455.78 L97.88,455.75 L98.27,455.72 L98.66,455.69 L99.05,455.66 L99.44,455.63 L99.84,455.59 L100.23,455.56 L100.62,455.52 L101.01,455.49 L101.40,455.45 L101.79,455.41 L102.19,455.37 L102.58,455.33 L102.97,455.29 L103.36,455.25 L103.75,455.20 L104.14,455.16 L104.53,455.11 L104.93,455.07 L105.32,455.02 L105.71,454.97 L106.10,454.92 L106.49,454.87 L106.88,454.81 L107.27,454.76 L107.67,454.70 L108.06,454.64 L108.45,454.58 L108.84,454.52 L109.23,454.46 L109.62,454.39 L110.02,454.33 L110.41,454.26 L110.80,454.19 L111.19,454.12 L111.58,454.05 L111.97,453.97 L112.36,453.89 L112.76,453.81 L113.15,453.73 L113.54,453.65 L113.93,453.56 L114.32,453.47 L114.71,453.38 L115.10,453.29 L115.50,453.19 L115.89,453.09 L116.28,452.99 L116.67,452.89 L117.06,452.78 L117.45,452.67 L117.85,452.55 L118.24,452.44 L118.63,452.32 L119.02,452.20 L119.41,452.07 L119.80,451.94 L120.19,451.80 L120.59,451.67 L120.98,451.53 L121.37,451.38 L121.76,451.23 L122.15,451.08 L122.54,450.92 L122.93,450.75 L123.33,450.59 L123.72,450.41 L124.11,450.24 L124.50,450.05 L124.89,449.87 L125.28,449.67 L125.68,449.48 L126.07,449.27 L126.46,449.06 L126.85,448.85 L127.24,448.62 L127.63,448.39 L128.02,448.16 L128.42,447.92 L128.81,447.67 L129.20,447.41 L129.59,447.15 L129.98,446.88 L130.37,446.60 L130.76,446.31 L131.16,446.02 L131.55,445.72 L131.94,445.41 L132.33,445.09 L132.72,444.76 L133.11,444.42 L133.50,444.07 L133.90,443.71 L134.29,443.34 L134.68,442.97 L135.07,442.58 L135.46,442.18 L135.85,441.77 L136.25,441.35 L136.64,440.92 L137.03,440.47 L137.42,440.02 L137.81,439.55 L138.20,439.07 L138.59,438.57 L138.99,438.07 L139.38,437.55 L139.77,437.01 L140.16,436.46 L140.55,435.90 L140.94,435.33 L141.34,434.74 L141.73,434.13 L142.12,433.51 L142.51,432.87 L142.90,432.22 L143.29,431.55 L143.68,430.87 L144.08,430.16 L144.47,429.45 L144.86,428.71 L145.25,427.96 L145.64,427.19 L146.03,426.40 L146.42,425.59 L146.82,424.77 L147.21,423.92 L147.60,423.06 L147.99,422.18 L148.38,421.28 L148.77,420.36 L149.17,419.42 L149.56,418.47 L149.95,417.49 L150.34,416.49 L150.73,415.47 L151.12,414.44 L151.51,413.38 L151.91,412.30 L152.30,411.21 L152.69,410.09 L153.08,408.95 L153.47,407.80 L153.86,406.62 L154.25,405.42 L154.65,404.21 L155.04,402.97 L155.43,401.71 L155.82,400.44 L156.21,399.15 L156.60,397.84 L157.00,396.51 L157.39,395.16 L157.78,393.79 L158.17,392.41 L158.56,391.01 L158.95,389.60 L159.34,388.17 L159.74,386.72 L160.13,385.26 L160.52,383.79 L160.91,382.30 L161.30,380.80 L161.69,379.29 L162.08,377.77 L162.48,376.24 L162.87,374.70 L163.26,373.15 L163.65,371.60 L164.04,370.04 L164.43,368.47 L164.83,366.90 L165.22,365.33 L165.61,363.76 L166.00,362.18 L166.39,360.61 L166.78,359.04 L167.17,357.48 L167.57,355.92 L167.96,354.36 L168.35,352.81 L168.74,351.28 L169.13,349.75 L169.52,348.24 L169.91,346.74 L170.31,345.25 L170.70,343.78 L171.09,342.33 L171.48,340.90 L171.87,339.50 L172.26,338.11 L172.66,336.75 L173.05,335.42 L173.44,334.11 L173.83,332.84 L174.22,331.59 L174.61,330.38 L175.00,329.20 L175.40,328.06 L175.79,326.95 L176.18,325.88 L176.57,324.85 L176.96,323.86 L177.35,322.92 L177.74,322.01 L178.14,321.16 L178.53,320.35 L178.92,319.58 L179.31,318.86 L179.70,318.20 L180.09,317.58 L180.49,317.01 L180.88,316.50 L181.27,316.03 L181.66,315.62 L182.05,315.27 L182.44,314.96 L182.83,314.72 L183.23,314.52 L183.62,314.38 L184.01,314.30 L184.40,314.27 L184.79,314.30 L185.18,314.38 L185.57,314.52 L185.97,314.72 L186.36,314.96 L186.75,315.27 L187.14,315.62 L187.53,316.03 L187.92,316.50 L188.31,317.01 L188.71,317.58 L189.10,318.20 L189.49,318.86 L189.88,319.58 L190.27,320.35 L190.66,321.16 L191.06,322.01 L191.45,322.92 L191.84,323.86 L192.23,324.85 L192.62,325.88 L193.01,326.95 L193.40,328.06 L193.80,329.20 L194.19,330.38 L194.58,331.59 L194.97,332.84 L195.36,334.11 L195.75,335.42 L196.15,336.75 L196.54,338.11 L196.93,339.50 L197.32,340.90 L197.71,342.33 L198.10,343.78 L198.49,345.25 L198.89,346.74 L199.28,348.24 L199.67,349.75 L200.06,351.28 L200.45,352.81 L200.84,354.36 L201.23,355.92 L201.63,357.48 L202.02,359.04 L202.41,360.61 L202.80,362.18 L203.19,363.76 L203.58,365.33 L203.97,366.90 L204.37,368.47 L204.76,370.04 L205.15,371.60 L205.54,373.15 L205.93,374.70 L206.32,376.24 L206.72,377.77 L207.11,379.29 L207.50,380.80 L207.89,382.30 L208.28,383.79 L208.67,385.26 L209.06,386.72 L209.46,388.17 L209.85,389.60 L210.24,391.01 L210.63,392.41 L211.02,393.79 L211.41,395.16 L211.81,396.51 L212.20,397.84 L212.59,399.15 L212.98,400.44 L213.37,401.71 L213.76,402.97 L214.15,404.21 L214.55,405.42 L214.94,406.62 L215.33,407.80 L215.72,408.95 L216.11,410.09 L216.50,411.21 L216.89,412.30 L217.29,413.38 L217.68,414.44 L218.07,415.47 L218.46,416.49 L218.85,417.49 L219.24,418.47 L219.63,419.42 L220.03,420.36 L220.42,421.28 L220.81,422.18 L221.20,423.06 L221.59,423.92 L221.98,424.77 L222.38,425.59 L222.77,426.40 L223.16,427.19 L223.55,427.96 L223.94,428.71 L224.33,429.45 L224.72,430.16 L225.12,430.87 L225.51,431.55 L225.90,432.22 L226.29,432.87 L226.68,433.51 L227.07,434.13 L227.47,434.74 L227.86,435.33 L228.25,435.90 L228.64,436.46 L229.03,437.01 L229.42,437.55 L229.81,438.07 L230.21,438.57 L230.60,439.07 L230.99,439.55 L231.38,440.02 L231.77,440.47 L232.16,440.92 L232.55,441.35 L232.95,441.77 L233.34,442.18 L233.73,442.58 L234.12,442.97 L234.51,443.34 L234.90,443.71 L235.30,444.07 L235.69,444.42 L236.08,444.76 L236.47,445.09 L236.86,445.41 L237.25,445.72 L237.64,446.02 L238.04,446.31 L238.43,446.60 L238.82,446.88 L239.21,447.15 L239.60,447.41 L239.99,447.67 L240.38,447.92 L240.78,448.16 L241.17,448.39 L241.56,448.62 L241.95,448.85 L242.34,449.06 L242.73,449.27 L243.12,449.48 L243.52,449.67 L243.91,449.87 L244.30,450.05 L244.69,450.24 L245.08,450.41 L245.47,450.59 L245.87,450.75 L246.26,450.92 L246.65,451.08 L247.04,451.23 L247.43,451.38 L247.82,451.53 L248.21,451.67 L248.61,451.80 L249.00,451.94 L249.39,452.07 L249.78,452.20 L250.17,452.32 L250.56,452.44 L250.95,452.55 L251.35,452.67 L251.74,452.78 L252.13,452.89 L252.52,452.99 L252.91,453.09 L253.30,453.19 L253.70,453.29 L254.09,453.38 L254.48,453.47 L254.87,453.56 L255.26,453.65 L255.65,453.73 L256.04,453.81 L256.44,453.89 L256.83,453.97 L257.22,454.05 L257.61,454.12 L258.00,454.19 L258.39,454.26 L258.78,454.33 L259.18,454.39 L259.57,454.46 L259.96,454.52 L260.35,454.58 L260.74,454.64 L261.13,454.70 L261.53,454.76 L261.92,454.81 L262.31,454.87 L262.70,454.92 L263.09,454.97 L263.48,455.02 L263.87,455.07 L264.27,455.11 L264.66,455.16 L265.05,455.20 L265.44,455.25 L265.83,455.29 L266.22,455.33 L266.62,455.37 L267.01,455.41 L267.40,455.45 L267.79,455.49 L268.18,455.52 L268.57,455.56 L268.96,455.59 L269.36,455.63 L269.75,455.66 L270.14,455.69 L270.53,455.72 L270.92,455.75 L271.31,455.78 L271.70,455.81 L272.10,455.84 L272.49,455.87 L272.88,455.90 L273.27,455.92 L273.66,455.95 L274.05,455.97 L274.44,456.00 L274.84,456.02 L275.23,456.04 L275.62,456.07 L276.01,456.09 L276.40,456.11 L276.79,456.13 L277.19,456.15 L277.58,456.17 L277.97,456.19 L278.36,456.21 L278.75,456.23 L279.14,456.25 L279.53,456.26 L279.93,456.28 L280.32,456.30 L280.71,456.31 L281.10,456.33 L281.49,456.34 L281.88,456.36 L282.27,456.37 L282.67,456.39 L283.06,456.40 L283.45,456.42 L283.84,456.43 L284.23,456.44 L284.62,456.46 L285.02,456.47 L285.41,456.48 L285.80,456.49 L286.19,456.50 L286.58,456.52 L286.97,456.53 L287.36,456.54 L287.76,456.55 L288.15,456.56 L288.54,456.57 L288.93,456.58 L289.32,456.59 L289.71,456.60 L290.11,456.61 L290.50,456.62 L290.89,456.63 L291.28,456.63 L291.67,456.64 L292.06,456.65 L292.45,456.66 L292.85,456.67 L293.24,456.68 L293.63,456.68 L294.02,456.69 L294.41,456.70 L294.80,456.71 L295.19,456.71 L295.59,456.72 L295.98,456.73 L296.37,456.73 L296.76,456.74 L297.15,456.75 L297.54,456.75 L297.94,456.76 L298.33,456.76 L298.72,456.77 L299.11,456.78 L299.50,456.78 L299.89,456.79 L300.28,456.79 L300.68,456.80 L301.07,456.80 L301.46,456.81 L301.85,456.82 L302.24,456.82 L302.63,456.83 L303.02,456.83 L303.42,456.84 L303.81,456.84 L304.20,456.84 L304.59,456.85 L304.98,456.85 L305.37,456.86 L305.76,456.86 L306.16,456.87 L306.55,456.87 L306.94,456.88 L307.33,456.88 L307.72,456.88 L308.11,456.89 L308.51,456.89 L308.90,456.90 L309.29,456.90 L309.68,456.90 L309.68,457.30 L341.00,457.30" fill="none" stroke="#ff0000" stroke-width="3.7" stroke-linejoin="round"/>
<path d="M53.22,457.30 L65.02,457.30 M59.12,451.70 L59.12,462.90 M55.16,453.34 L63.08,461.26 M55.16,461.26 L63.08,453.34" stroke="#000" stroke-width="1.4" fill="none"/>
<path d="M303.78,457.30 L315.58,457.30 M309.68,451.70 L309.68,462.90 M305.72,453.34 L313.64,461.26 M305.72,461.26 L313.64,453.34" stroke="#000" stroke-width="1.4" fill="none"/>
<line x1="106.10" y1="452.20" x2="106.10" y2="462.40" stroke="#000" stroke-width="1.4"/>
<line x1="262.70" y1="452.20" x2="262.70" y2="462.40" stroke="#000" stroke-width="1.4"/>
<rect x="235.8" y="314.5" width="98.6" height="40.9" fill="#fff" stroke="#3a3a3a" stroke-width="1.1"/>
<line x1="238.9" y1="325.6" x2="264.8" y2="325.6" stroke="#00ff00" stroke-width="3.3"/>
<line x1="238.9" y1="344.4" x2="264.8" y2="344.4" stroke="#ff0000" stroke-width="3.7"/>
<g font-family="Liberation Sans, sans-serif" font-size="10.67" fill="#000">
<text x="267.0" y="327.7" font-size="10.4">p</text><text x="272.9" y="331.7" font-size="8">u</text><text x="281.1" y="328.9" font-size="10.1">(Gaussian)</text>
<text x="267.0" y="347.2" font-size="10.4">p</text><text x="272.9" y="351.3" font-size="8">s</text><text x="280.0" y="348.0" font-size="10.1">("true")</text>
</g>
</svg>
</body></html>
